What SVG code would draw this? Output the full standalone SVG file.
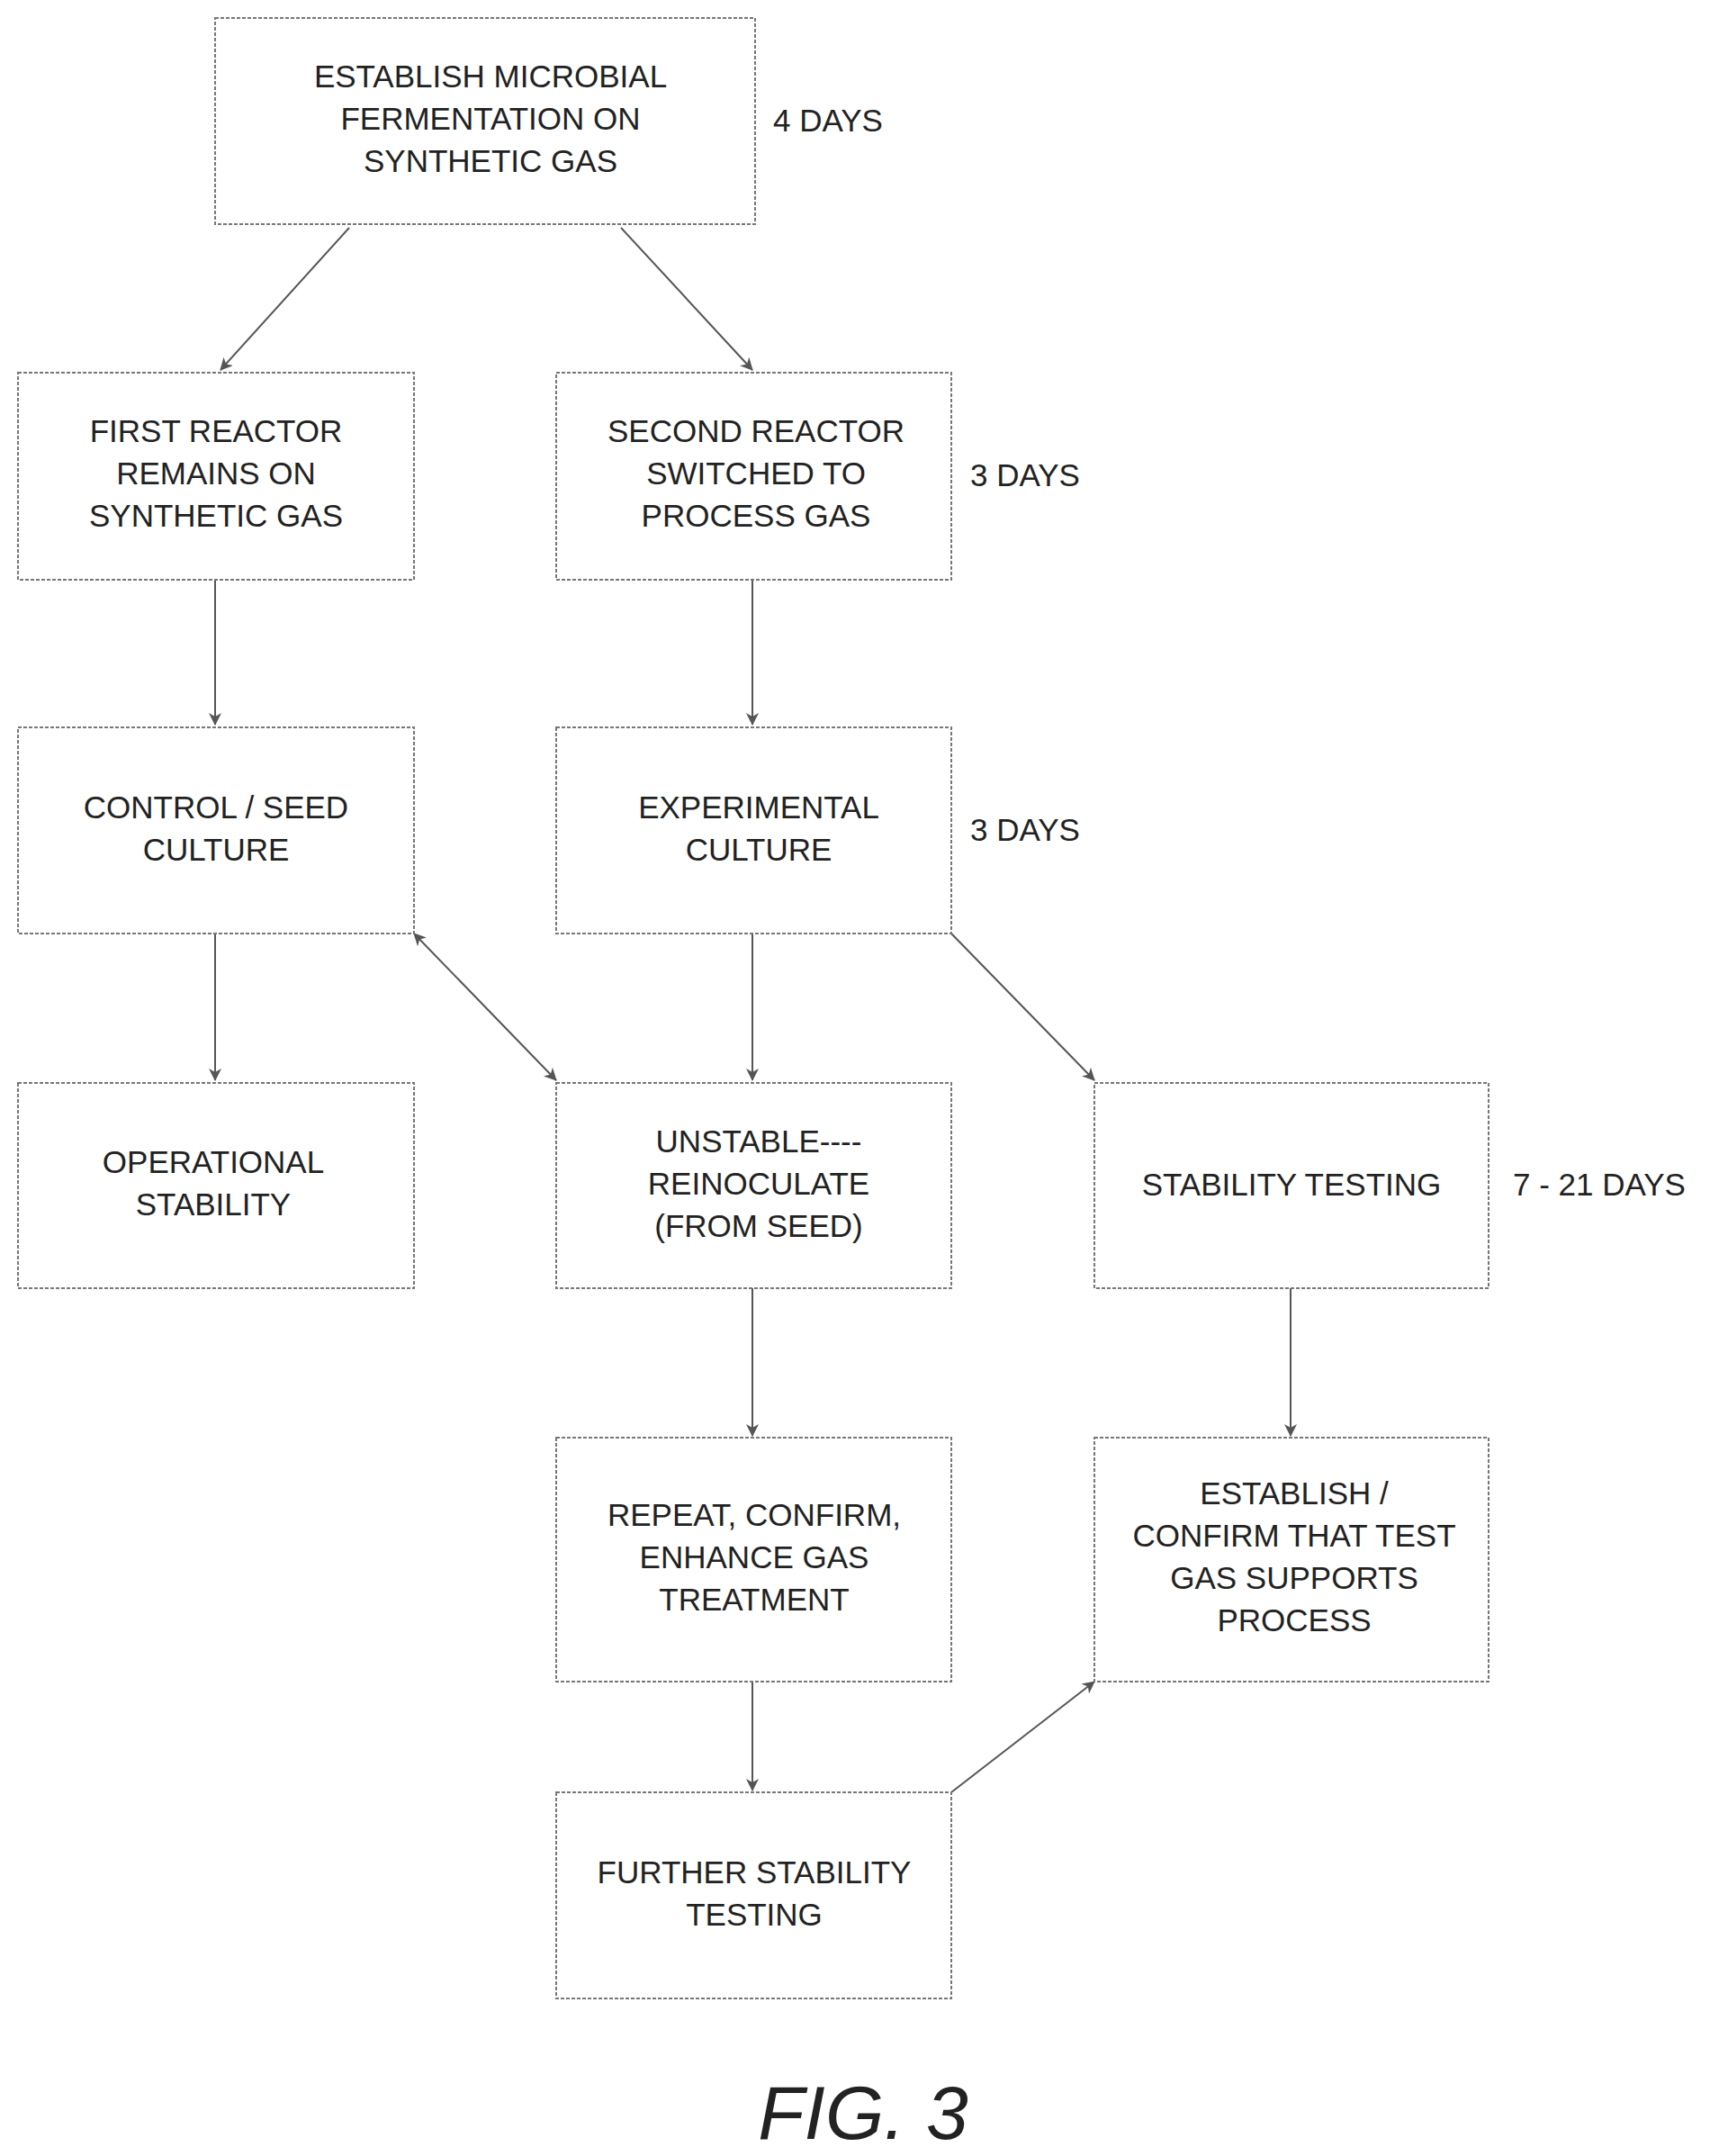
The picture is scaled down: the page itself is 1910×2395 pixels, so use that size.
<svg xmlns="http://www.w3.org/2000/svg" width="1910" height="2395" viewBox="0 0 1910 2395">
<style>
.b{fill:#fff;stroke:#777;stroke-width:2;stroke-dasharray:4 2}
.t{font-family:"Liberation Sans",Arial,sans-serif;font-size:35px;fill:#222;text-anchor:middle}
.d{font-family:"Liberation Sans",Arial,sans-serif;font-size:35px;fill:#222}
.c{stroke:#555;stroke-width:2;fill:none}
</style>
<defs><marker id="a" markerWidth="14" markerHeight="14" refX="13" refY="7" orient="auto-start-reverse" markerUnits="userSpaceOnUse"><path d="M0,0 L14,7 L0,14 L4,7 Z" fill="#555"/></marker></defs>
<rect width="1910" height="2395" fill="#fff"/>
<g id="connectors">
<line class="c" x1="388" y1="253" x2="245" y2="411" marker-end="url(#a)"/>
<line class="c" x1="690" y1="253" x2="836" y2="411" marker-end="url(#a)"/>
<line class="c" x1="239" y1="644" x2="239" y2="805" marker-end="url(#a)"/>
<line class="c" x1="836" y1="644" x2="836" y2="805" marker-end="url(#a)"/>
<line class="c" x1="239" y1="1037" x2="239" y2="1200" marker-end="url(#a)"/>
<line class="c" x1="836" y1="1037" x2="836" y2="1200" marker-end="url(#a)"/>
<line class="c" x1="460" y1="1037" x2="618" y2="1200" marker-start="url(#a)" marker-end="url(#a)"/>
<line class="c" x1="1057" y1="1037" x2="1216" y2="1200" marker-end="url(#a)"/>
<line class="c" x1="836" y1="1431" x2="836" y2="1595" marker-end="url(#a)"/>
<line class="c" x1="1434" y1="1431" x2="1434" y2="1595" marker-end="url(#a)"/>
<line class="c" x1="836" y1="1868" x2="836" y2="1989" marker-end="url(#a)"/>
<line class="c" x1="1057" y1="1991" x2="1216" y2="1868" marker-end="url(#a)"/>
</g>
<g id="n1"><rect class="b" x="239" y="20" width="600" height="229"/><text class="t" x="545" y="97">ESTABLISH MICROBIAL</text><text class="t" x="545" y="144">FERMENTATION ON</text><text class="t" x="545" y="191">SYNTHETIC GAS</text></g>
<text class="d" x="859" y="146">4 DAYS</text>
<g id="n2"><rect class="b" x="20" y="414" width="440" height="230"/><text class="t" x="240" y="491">FIRST REACTOR</text><text class="t" x="240" y="538">REMAINS ON</text><text class="t" x="240" y="585">SYNTHETIC GAS</text></g>
<g id="n3"><rect class="b" x="618" y="414" width="439" height="230"/><text class="t" x="840" y="491">SECOND REACTOR</text><text class="t" x="840" y="538">SWITCHED TO</text><text class="t" x="840" y="585">PROCESS GAS</text></g>
<text class="d" x="1078" y="540">3 DAYS</text>
<g id="n4"><rect class="b" x="20" y="808" width="440" height="229"/><text class="t" x="240" y="909">CONTROL / SEED</text><text class="t" x="240" y="956">CULTURE</text></g>
<g id="n5"><rect class="b" x="618" y="808" width="439" height="229"/><text class="t" x="843" y="909">EXPERIMENTAL</text><text class="t" x="843" y="956">CULTURE</text></g>
<text class="d" x="1078" y="934">3 DAYS</text>
<g id="n6"><rect class="b" x="20" y="1203" width="440" height="228"/><text class="t" x="237" y="1303">OPERATIONAL</text><text class="t" x="237" y="1350">STABILITY</text></g>
<g id="n7"><rect class="b" x="618" y="1203" width="439" height="228"/><text class="t" x="843" y="1280">UNSTABLE----</text><text class="t" x="843" y="1327">REINOCULATE</text><text class="t" x="843" y="1374">(FROM SEED)</text></g>
<g id="n8"><rect class="b" x="1216" y="1203" width="438" height="228"/><text class="t" x="1435" y="1328">STABILITY TESTING</text></g>
<text class="d" x="1681" y="1328">7 - 21 DAYS</text>
<g id="n9"><rect class="b" x="618" y="1597" width="439" height="271"/><text class="t" x="838" y="1695">REPEAT, CONFIRM,</text><text class="t" x="838" y="1742">ENHANCE GAS</text><text class="t" x="838" y="1789">TREATMENT</text></g>
<g id="n10"><rect class="b" x="1216" y="1597" width="438" height="271"/><text class="t" x="1438" y="1671">ESTABLISH /</text><text class="t" x="1438" y="1718">CONFIRM THAT TEST</text><text class="t" x="1438" y="1765">GAS SUPPORTS</text><text class="t" x="1438" y="1812">PROCESS</text></g>
<g id="n11"><rect class="b" x="618" y="1991" width="439" height="229"/><text class="t" x="838" y="2092">FURTHER STABILITY</text><text class="t" x="838" y="2139">TESTING</text></g>
<text x="959" y="2376" font-family="Liberation Sans,Arial,sans-serif" font-size="84" font-style="italic" fill="#222" text-anchor="middle">FIG. 3</text>
</svg>
